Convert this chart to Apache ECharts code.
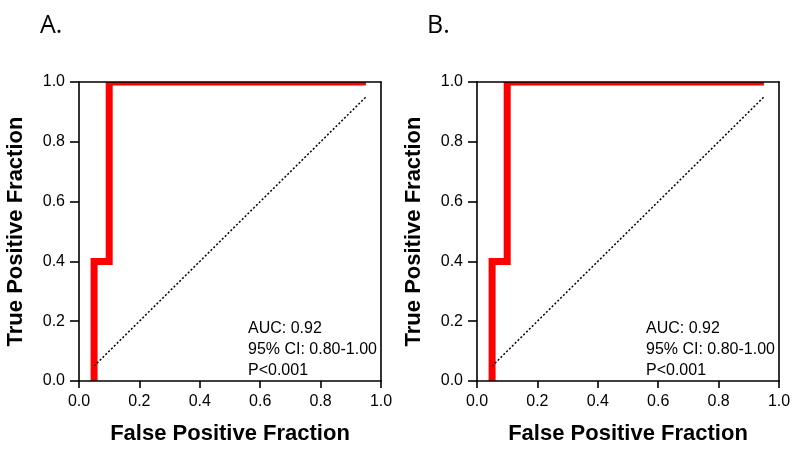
<!DOCTYPE html>
<html>
<head>
<meta charset="utf-8">
<script src="https://cdn.jsdelivr.net/npm/echarts@6/dist/echarts.min.js"></script>
<style>
html,body{margin:0;padding:0;background:#fff;}
#chart{width:800px;height:450px;}
</style>
</head>
<body>
<div id="chart"></div>
<script>
// ---- Data ----
const panelLabels = ['A.', 'B.'];
const xTicks = [0.0, 0.2, 0.4, 0.6, 0.8, 1.0];
const yTicks = [0.0, 0.2, 0.4, 0.6, 0.8, 1.0];
const rocA_fpf = [0.05, 0.05, 0.10, 0.10, 0.95];
const rocA_tpf = [0.00, 0.40, 0.40, 1.00, 1.00];
const rocB_fpf = [0.05, 0.05, 0.10, 0.10, 0.95];
const rocB_tpf = [0.00, 0.40, 0.40, 1.00, 1.00];
const refLine_x = [0.05, 0.95];
const refLine_y = [0.05, 0.95];
const statsA = ['AUC: 0.92', '95% CI: 0.80-1.00', 'P<0.001'];
const statsB = ['AUC: 0.92', '95% CI: 0.80-1.00', 'P<0.001'];
const xName = 'False Positive Fraction';
const yName = 'True Positive Fraction';

// ---- Layout ----
const grids = [
  {left: 79, top: 82, width: 302, height: 299},
  {left: 477, top: 82, width: 302, height: 299}
];
const FONT = '"Liberation Sans", Arial, sans-serif';
const zip = (xs, ys) => xs.map((x, i) => [x, ys[i]]);

const chart = echarts.init(document.getElementById('chart'), null, {renderer: 'canvas'});

const xAxes = [], yAxes = [], series = [], graphics = [];
const rocs = [[rocA_fpf, rocA_tpf], [rocB_fpf, rocB_tpf]];
const stats = [statsA, statsB];

grids.forEach((g, i) => {
  // bottom x axis
  xAxes.push({
    gridIndex: i, type: 'value', position: 'bottom', min: xTicks[0], max: xTicks[xTicks.length - 1], interval: 0.2,
    z: 10,
    name: xName, nameLocation: 'middle', nameGap: 42,
    nameTextStyle: {fontFamily: FONT, fontWeight: 'bold', fontSize: 22, color: '#000'},
    axisLine: {show: true, onZero: false, lineStyle: {color: '#000', width: 1.6}},
    axisTick: {show: true, length: 7, lineStyle: {color: '#000', width: 1.6}},
    axisLabel: {margin: 13, fontFamily: FONT, fontSize: 16, color: '#000', formatter: v => v.toFixed(1)},
    splitLine: {show: false}
  });
  // top frame line
  xAxes.push({
    gridIndex: i, type: 'value', position: 'top', min: 0, max: 1, z: 10,
    axisLine: {show: true, onZero: false, lineStyle: {color: '#000', width: 1.6}},
    axisTick: {show: false}, axisLabel: {show: false}, splitLine: {show: false}
  });
  // left y axis
  yAxes.push({
    gridIndex: i, type: 'value', position: 'left', min: yTicks[0], max: yTicks[yTicks.length - 1], interval: 0.2,
    z: 10,
    name: yName, nameLocation: 'middle', nameGap: 52,
    nameTextStyle: {fontFamily: FONT, fontWeight: 'bold', fontSize: 22, color: '#000'},
    axisLine: {show: true, onZero: false, lineStyle: {color: '#000', width: 1.6}},
    axisTick: {show: true, length: 9, lineStyle: {color: '#000', width: 1.6}},
    axisLabel: {margin: 14, fontFamily: FONT, fontSize: 16, color: '#000', formatter: v => v.toFixed(1)},
    splitLine: {show: false}
  });
  // right frame line
  yAxes.push({
    gridIndex: i, type: 'value', position: 'right', min: 0, max: 1, z: 10,
    axisLine: {show: true, onZero: false, lineStyle: {color: '#000', width: 1.6}},
    axisTick: {show: false}, axisLabel: {show: false}, splitLine: {show: false}
  });

  const xi = i * 2, yi = i * 2;
  series.push({
    type: 'line', xAxisIndex: xi, yAxisIndex: yi,
    data: zip(rocs[i][0], rocs[i][1]),
    showSymbol: false, symbol: 'none', z: 3,
    lineStyle: {color: '#ff0000', width: 7, join: 'miter', cap: 'butt'},
    silent: true
  });
  series.push({
    type: 'line', xAxisIndex: xi, yAxisIndex: yi,
    data: zip(refLine_x, refLine_y),
    showSymbol: false, symbol: 'none', z: 4,
    lineStyle: {color: '#000', width: 1.5, type: [2, 2]},
    silent: true
  });

  // mask so the thick line is clipped at the plot frame like the original
  graphics.push({
    type: 'rect', z: 5, silent: true,
    shape: {x: g.left + 1, y: g.top - 6, width: g.width - 2, height: 6},
    style: {fill: '#fff'}
  });
  // statistics text
  graphics.push({
    type: 'text', z: 6, silent: true,
    x: g.left + 169, y: g.top + 236,
    style: {text: stats[i].join('\n'), font: '16px ' + FONT, fill: '#000', lineHeight: 21, verticalAlign: 'top'}
  });
  // panel label
  graphics.push({
    type: 'text', z: 6, silent: true,
    x: i === 0 ? 40 : 427, y: 26,
    style: {text: panelLabels[i], font: '25px "Open Sans", sans-serif', fill: '#000', verticalAlign: 'middle'}
  });
});

chart.setOption({
  animation: false,
  backgroundColor: '#fff',
  grid: grids.map(g => Object.assign({containLabel: false, show: false}, g)),
  xAxis: xAxes,
  yAxis: yAxes,
  series: series,
  graphic: graphics
});
</script>
</body>
</html>
